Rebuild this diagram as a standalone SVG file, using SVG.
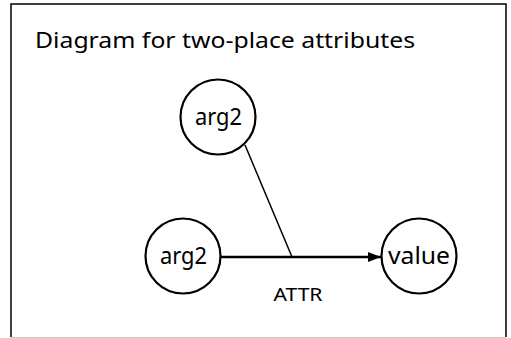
<svg xmlns="http://www.w3.org/2000/svg" width="511" height="338" viewBox="0 0 511 338">
  <style>
    text { font-family: "Noto Sans", "Open Sans", "Liberation Sans", sans-serif; fill: #000; }
    .node circle { fill: #fff; stroke: #000; stroke-width: 2.2; }
    .node text { font-size: 23px; text-anchor: middle; }
    .edge { stroke: #000; fill: none; }
  </style>
  <defs>
    <marker id="arrow" viewBox="0 0 13 10" refX="13" refY="5" markerWidth="13" markerHeight="10" markerUnits="userSpaceOnUse" orient="auto">
      <path d="M0,0 L13,5 L0,10 z" fill="#000"/>
    </marker>
  </defs>

  <!-- frame -->
  <rect x="0" y="0" width="511" height="338" fill="#fff"/>
  <path d="M11,337 V4 H506 V337" fill="none" stroke="#000" stroke-width="1.5"/>
  <line x1="11" y1="337.5" x2="506" y2="337.5" stroke="#c8c8c8" stroke-width="1"/>

  <text x="35" y="48" font-size="22.5" textLength="380" lengthAdjust="spacingAndGlyphs">Diagram for two-place attributes</text>

  <!-- connectors -->
  <g id="connectors">
    <line class="edge" x1="245" y1="145" x2="292" y2="257" stroke-width="1.5"/>
    <line class="edge" x1="221" y1="257" x2="381" y2="257" stroke-width="2.5" marker-end="url(#arrow)"/>
    <text x="298" y="301" font-size="18" text-anchor="middle" textLength="49" lengthAdjust="spacingAndGlyphs">ATTR</text>
  </g>

  <!-- nodes -->
  <g id="arg2-top" class="node">
    <circle cx="218" cy="117" r="37.5"/>
    <text x="218.5" y="125" textLength="47" lengthAdjust="spacingAndGlyphs">arg2</text>
  </g>
  <g id="arg2-left" class="node">
    <circle cx="183" cy="256" r="37.5"/>
    <text x="183.5" y="264" textLength="47" lengthAdjust="spacingAndGlyphs">arg2</text>
  </g>
  <g id="value" class="node">
    <circle cx="419" cy="256" r="37.5"/>
    <text x="419" y="264" textLength="62" lengthAdjust="spacingAndGlyphs">value</text>
  </g>
</svg>
